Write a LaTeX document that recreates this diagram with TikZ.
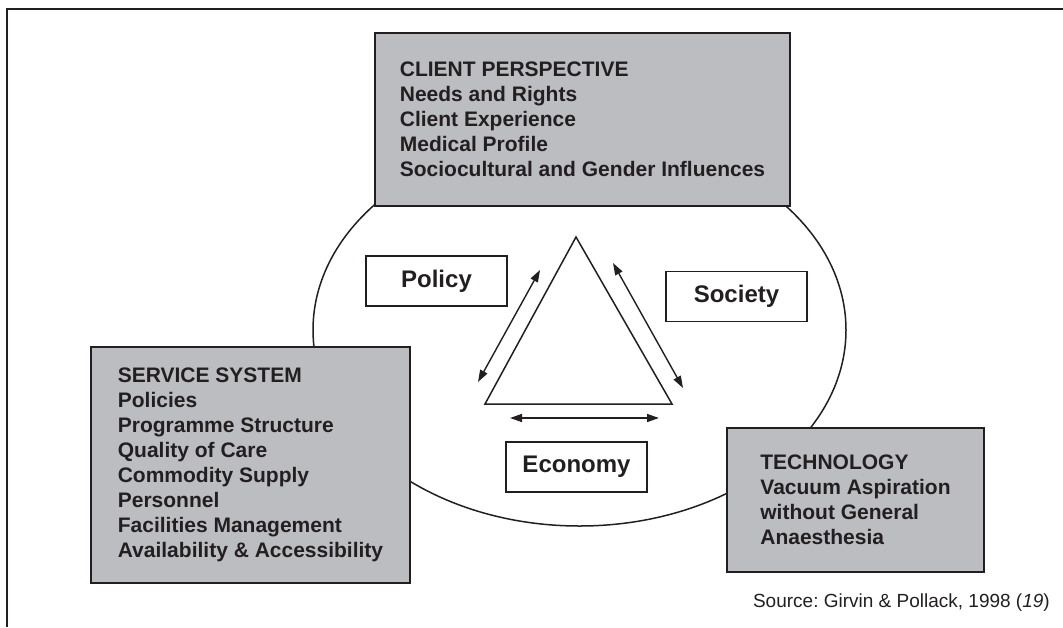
\documentclass[tikz,border=0pt]{standalone}
\usepackage{fontspec}
\setmainfont{Liberation Sans}
\usetikzlibrary{arrows.meta}
\definecolor{ink}{RGB}{35,31,32}
\definecolor{boxgray}{RGB}{188,189,193}
\frenchspacing

\begin{document}
\begin{tikzpicture}[x=1pt,y=-1pt,
	greybox/.style={draw=ink,fill=boxgray,text=ink,line width=1.8pt,align=left,inner sep=0pt,font=\bfseries\fontsize{21}{25}\selectfont},
	factor/.style={draw=ink,fill=white,text=ink,line width=1.8pt,minimum width=141pt,minimum height=50pt,font=\bfseries\fontsize{24}{28}\selectfont},
	twoway/.style={{Triangle[length=12pt,width=8pt]}-{Triangle[length=12pt,width=8pt]},draw=ink,line width=1.4pt}]
\useasboundingbox (0,0) rectangle (1063,627);
% frame
\draw[ink,line width=2.5pt] (7,627) -- (7,9) -- (1063,9);
% ring behind the boxes
\draw[ink,line width=1.5pt] (579.5,330) ellipse [x radius=266.5,y radius=196];
\node[greybox,minimum width=415pt,minimum height=173pt] (client) at (582.5,119.5) {CLIENT PERSPECTIVE\\Needs and Rights\\Client Experience\\Medical Profile\\Sociocultural and Gender Influences};
\node[greybox,minimum width=319pt,minimum height=236pt] (service) at (250.5,465) {SERVICE SYSTEM\\Policies\\Programme Structure\\Quality of Care\\Commodity Supply\\Personnel\\Facilities Management\\Availability \& Accessibility};
\node[greybox,minimum width=257pt,minimum height=144pt] (tech) at (855.5,500) {TECHNOLOGY\\Vacuum Aspiration\\without General\\Anaesthesia};
\node[factor] (policy) at (436.5,281) {Policy};
\node[factor] (society) at (736.5,296.5) {Society};
\node[factor] (economy) at (576.5,467) {Economy};
% triangle
\coordinate (apex) at (576,237);
\coordinate (baseL) at (485,404);
\coordinate (baseR) at (672,404);
\draw[ink,line width=1.5pt] (apex) -- (baseL) -- (baseR) -- cycle;
% arrows
\coordinate (polA) at (540,270);
\coordinate (polB) at (478,382);
\coordinate (socA) at (613,263);
\coordinate (socB) at (683,388);
\coordinate (ecoA) at (510,418);
\coordinate (ecoB) at (659,418);
\draw[twoway] (polB) -- (polA);
\draw[twoway] (socA) -- (socB);
\draw[twoway] (ecoA) -- (ecoB);
\node[anchor=east,inner sep=0pt,text=ink,font=\fontsize{19}{22}\selectfont] (source) at (1050,603) {Source: Girvin \& Pollack, 1998 (\textit{19})};
\end{tikzpicture}
\end{document}
